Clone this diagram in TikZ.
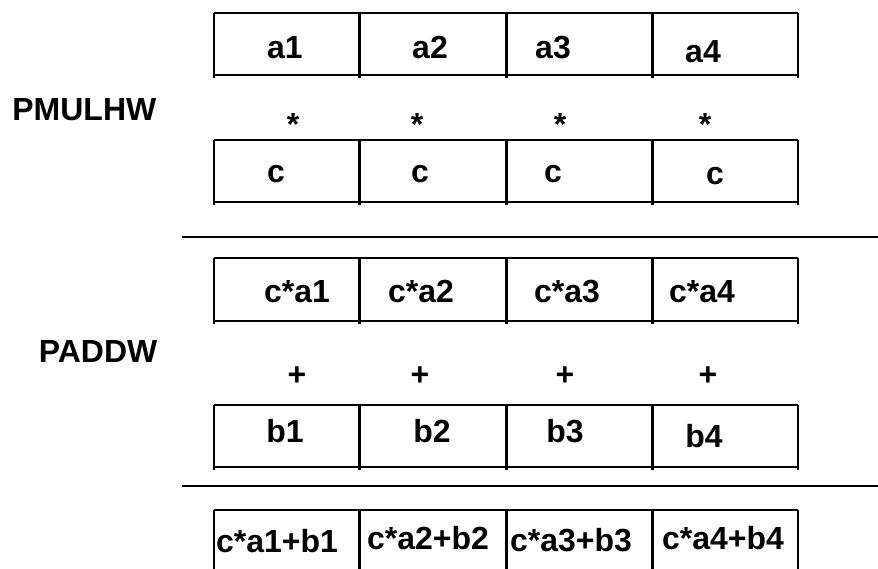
\documentclass[tikz,border=0pt]{standalone}
\usepackage{fontspec}
\setmainfont{Liberation Sans}
\begin{document}
\begin{tikzpicture}[font=\bfseries\fontsize{9.1}{11}\selectfont,
    rowline/.style={line width=.6pt},
    sepline/.style={line width=.85pt},
    txt/.style={anchor=base,inner sep=0pt}]
  \useasboundingbox (0,0) rectangle (8.78,5.69);

  % register rows
  \foreach \t/\b in {5.56/4.94, 4.29/3.67, 3.11/2.48, 1.64/1.02}{
    \draw[rowline] (2.14,\t) -- (7.98,\t);
    \draw[rowline] (2.14,\b) -- (7.98,\b);
    \draw[rowline] (2.14,\t) -- (2.14,\b-.03);
    \draw[rowline] (7.98,\t) -- (7.98,\b-.03);
    \foreach \x in {3.59,5.06,6.52}
      \draw[sepline] (\x,\t) -- (\x,\b-.03);
  }
  \draw[rowline] (2.14,.59) -- (7.98,.59);
  \draw[rowline] (2.14,.59) -- (2.14,0);
  \draw[rowline] (7.98,.59) -- (7.98,0);
  \foreach \x in {3.59,5.06,6.52}
    \draw[sepline] (\x,.59) -- (\x,0);

  \draw[rowline] (1.82,3.32) -- (8.78,3.32);
  \draw[rowline] (1.82,.83) -- (8.78,.83);

  \node[txt,anchor=base east] (pmulhw) at (1.57,4.48) {PMULHW};
  \node[txt,anchor=base east] (paddw) at (1.58,2.06) {PADDW};

  \foreach \x/\y/\n in {2.85/5.10/1, 4.30/5.10/2, 5.53/5.10/3, 7.03/5.06/4}
    \node[txt] (a\n) at (\x,\y) {a\n};
  \foreach \x/\n in {2.93/1, 4.17/2, 5.60/3, 7.05/4}
    \node[txt] (mul\n) at (\x,4.33) {*};
  \foreach \x/\y/\n in {2.76/3.86/1, 4.20/3.86/2, 5.53/3.86/3, 7.15/3.84/4}
    \node[txt] (c\n) at (\x,\y) {c};

  \foreach \x/\n in {2.97/1, 4.21/2, 5.67/3, 7.02/4}
    \node[txt] (ca\n) at (\x,2.66) {c*a\n};
  \foreach \x/\n in {2.97/1, 4.20/2, 5.65/3, 7.08/4}
    \node[txt] (add\n) at (\x,1.83) {+};
  \foreach \x/\y/\n in {2.85/1.26/1, 4.32/1.26/2, 5.65/1.26/3, 7.04/1.21/4}
    \node[txt] (b\n) at (\x,\y) {b\n};

  \foreach \x/\y/\n in {2.77/.16/1, 4.28/.20/2, 5.71/.17/3, 7.23/.20/4}
    \node[txt] (res\n) at (\x,\y) {c*a\n+b\n};
\end{tikzpicture}
\end{document}
